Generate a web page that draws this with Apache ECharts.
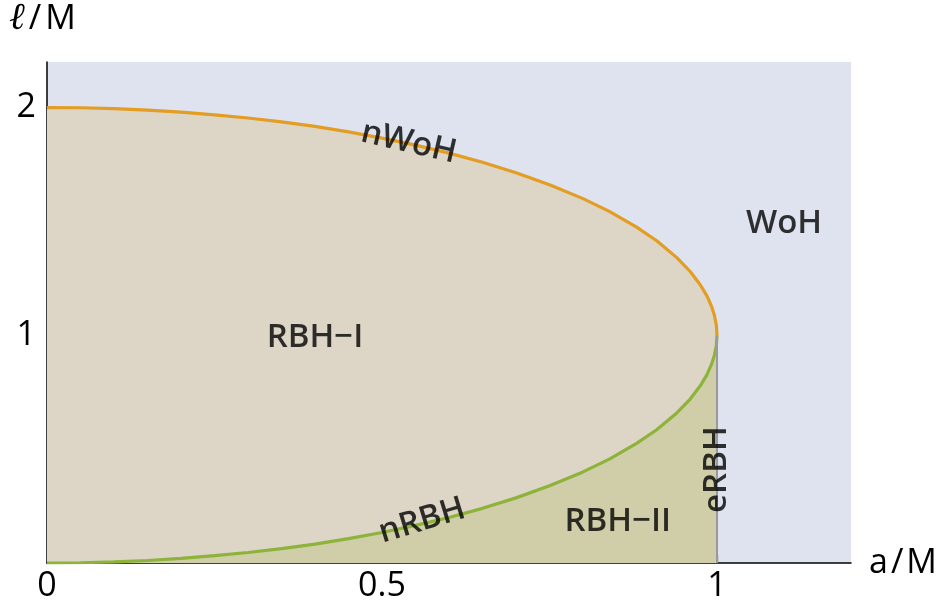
<!DOCTYPE html>
<html>
<head>
<meta charset="utf-8">
<script src="https://cdn.jsdelivr.net/npm/echarts@6/dist/echarts.min.js"></script>
<style>html,body{margin:0;padding:0;background:#fff}#c{width:943px;height:615px}</style>
</head>
<body>
<div id="c"></div>
<script>
// a/M values along the boundary curves
const aVals  = [0, 0.05, 0.1, 0.15, 0.2, 0.25, 0.3, 0.35, 0.4, 0.45, 0.5, 0.55, 0.6, 0.65, 0.7, 0.75, 0.8, 0.84, 0.88, 0.91, 0.94, 0.96, 0.975, 0.985, 0.992, 0.996, 0.999, 1.0];
// upper boundary (nWoH), l/M
const upperL = [2.0, 1.999, 1.995, 1.989, 1.980, 1.968, 1.954, 1.937, 1.917, 1.893, 1.866, 1.835, 1.800, 1.760, 1.714, 1.661, 1.600, 1.543, 1.475, 1.415, 1.341, 1.280, 1.222, 1.173, 1.126, 1.089, 1.045, 1.0];
// lower boundary (nRBH), l/M
const lowerL = [0, 0.001, 0.005, 0.011, 0.020, 0.032, 0.046, 0.063, 0.083, 0.107, 0.134, 0.165, 0.200, 0.240, 0.286, 0.339, 0.400, 0.457, 0.525, 0.585, 0.659, 0.720, 0.778, 0.827, 0.874, 0.911, 0.955, 1.0];
// extremal line eRBH
const eLine = [[1, 0], [1, 1]];
// region / curve labels
const labelNames = ['RBH\u2212I', 'WoH', 'nWoH', 'nRBH', 'RBH\u2212II', 'eRBH'];
const labelPos = [[0.40, 0.99], [1.10, 1.49], [0.540, 1.845], [0.560, 0.185], [0.852, 0.18], [1.0, 0.41]];
const labelRot = [0, 0, -13, 17, 0, 90];
const xTicks = [0, 0.5, 1];
const yTicks = [1, 2];

const FONT = 'Open Sans';
const FW = 600;
const FS = 34;
const chart = echarts.init(document.getElementById('c'), null, {renderer: 'canvas'});
chart.setOption({
  animation: false,
  grid: {left: 47, right: 92, top: 62, bottom: 52, show: true, backgroundColor: '#dee3ef', borderWidth: 0},
  xAxis: {
    type: 'value', min: 0, max: 1.2,
    name: '{n|a}{s|/}{n|M}', nameLocation: 'end', nameGap: 18,
    nameTextStyle: {verticalAlign: 'middle',
      rich: {n: {fontFamily: FONT, fontSize: FS, color: '#000'},
             s: {fontFamily: FONT, fontSize: FS, color: '#000', padding: [0, 3, 0, 3]}}},
    axisLine: {show: true, onZero: false, lineStyle: {color: '#000', width: 1.5}},
    axisTick: {show: true, inside: true, length: 8, customValues: [0.5, 1], lineStyle: {color: '#000', width: 1.2}},
    axisLabel: {customValues: xTicks, fontFamily: FONT, fontSize: FS, color: '#000', margin: 6,
      formatter: v => String(v)},
    splitLine: {show: false}
  },
  yAxis: {
    type: 'value', min: 0, max: 2.2,
    name: '{i|\u2113}{s|/}{n|M}', nameLocation: 'end', nameGap: 24,
    nameTextStyle: {align: 'left', padding: [0, 0, 0, -38],
      rich: {i: {fontFamily: 'DejaVu Serif', fontStyle: 'italic', fontSize: 38, color: '#000'},
             s: {fontFamily: FONT, fontSize: FS, color: '#000', padding: [0, 4, 0, 4]},
             n: {fontFamily: FONT, fontSize: FS, color: '#000'}}},
    axisLine: {show: true, onZero: false, lineStyle: {color: '#000', width: 1.5}},
    axisTick: {show: true, inside: true, length: 8, customValues: yTicks, lineStyle: {color: '#000', width: 1.2}},
    axisLabel: {customValues: yTicks, fontFamily: FONT, fontSize: FS, color: '#000', margin: 11},
    splitLine: {show: false}
  },
  series: [
    {
      type: 'line', name: 'nWoH', data: aVals.map((a, i) => [a, upperL[i]]),
      showSymbol: false, smooth: false, z: 3,
      lineStyle: {color: '#e39d22', width: 3.2},
      areaStyle: {color: '#ddd6c6', opacity: 1, origin: 'start'}
    },
    {
      type: 'line', name: 'nRBH', data: aVals.map((a, i) => [a, lowerL[i]]),
      showSymbol: false, smooth: false, z: 4,
      lineStyle: {color: '#8db33a', width: 3.2},
      areaStyle: {color: '#cfcea8', opacity: 1, origin: 'start'}
    },
    {
      type: 'line', name: 'eRBH', data: eLine, showSymbol: false, z: 5,
      lineStyle: {color: '#9a9a9a', width: 2}
    },
    {
      type: 'scatter', symbolSize: 0, z: 10, silent: true,
      data: labelNames.map((n, i) => ({name: n, value: labelPos[i], label: {rotate: labelRot[i]}})),
      label: {show: true, position: 'inside', formatter: '{b}', fontFamily: FONT, fontWeight: FW, fontSize: 33, color: '#000'}
    }
  ]
});
</script>
</body>
</html>
